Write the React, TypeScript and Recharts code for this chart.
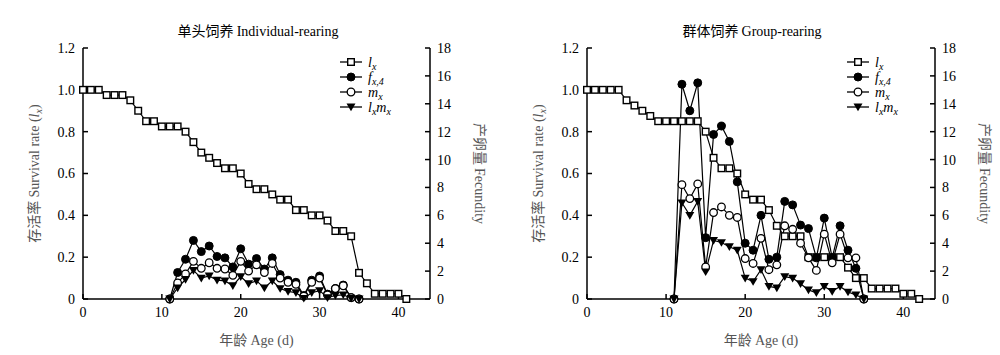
import { LineChart, Line, XAxis, YAxis, Legend } from 'recharts';

// x values (age, days)
const indivDays = [0, 1, 2, 3, 4, 5, 6, 7, 8, 9, 10, 11, 12, 13, 14, 15, 16, 17, 18, 19, 20, 21, 22, 23, 24, 25, 26, 27, 28, 29, 30, 31, 32, 33, 34, 35, 36, 37, 38, 39, 40, 41];
const groupDays = [0, 1, 2, 3, 4, 5, 6, 7, 8, 9, 10, 11, 12, 13, 14, 15, 16, 17, 18, 19, 20, 21, 22, 23, 24, 25, 26, 27, 28, 29, 30, 31, 32, 33, 34, 35, 36, 37, 38, 39, 40, 41, 42];
const fecDays = [11, 12, 13, 14, 15, 16, 17, 18, 19, 20, 21, 22, 23, 24, 25, 26, 27, 28, 29, 30, 31, 32, 33, 34, 35];

// 单头饲养 Individual-rearing
const indivLx = [1, 1, 1, 0.975, 0.975, 0.975, 0.95, 0.9, 0.85, 0.85, 0.825, 0.825, 0.825, 0.8, 0.75, 0.7, 0.675, 0.65, 0.625, 0.625, 0.6, 0.55, 0.525, 0.525, 0.5, 0.475, 0.475, 0.425, 0.425, 0.4, 0.4, 0.375, 0.325, 0.325, 0.3, 0.125, 0.075, 0.025, 0.025, 0.025, 0.025, 0];
const indivFx = [0, 1.9, 2.85, 4.2, 3.4, 3.8, 3.05, 2.95, 2.3, 3.6, 2.5, 2.9, 2.15, 2.95, 1.75, 1.35, 1.2, 0.25, 1.35, 1.65, 0.35, 0.75, 1.0, 0.1, 0];
const indivMx = [0, 1.15, 1.8, 2.7, 2.2, 2.6, 2.2, 2.15, 1.7, 2.7, 2.0, 2.45, 1.9, 2.55, 1.5, 1.2, 1.05, 0.2, 1.2, 1.5, 0.3, 0.75, 0.95, 0.1, 0];
const indivLxMx = [0, 0.8, 1.4, 2.05, 1.5, 1.65, 1.35, 1.3, 0.95, 1.6, 1.1, 1.3, 0.8, 1.3, 0.75, 0.55, 0.45, 0.05, 0.45, 0.6, 0.1, 0.25, 0.3, 0.05, 0];

// 群体饲养 Group-rearing
const groupLx = [1, 1, 1, 1, 1, 0.95, 0.925, 0.9, 0.875, 0.85, 0.85, 0.85, 0.85, 0.85, 0.85, 0.8, 0.675, 0.625, 0.625, 0.6, 0.5, 0.475, 0.475, 0.425, 0.35, 0.3, 0.3, 0.3, 0.2, 0.2, 0.2, 0.2, 0.2, 0.15, 0.1, 0.1, 0.05, 0.05, 0.05, 0.05, 0.025, 0.025, 0];
const groupFx = [0, 15.4, 13.5, 15.5, 4.4, 11.8, 12.4, 11.3, 8.4, 4.0, 3.5, 6.0, 2.85, 3.0, 7.0, 6.75, 5.3, 5.05, 2.95, 5.8, 2.95, 5.25, 3.5, 2.2, 0];
const groupMx = [0, 8.2, 7.2, 8.25, 2.3, 6.2, 6.6, 6.0, 5.85, 2.9, 2.55, 4.35, 2.1, 2.45, 5.25, 5.0, 4.0, 2.95, 2.05, 4.65, 2.6, 4.65, 2.95, 2.95, 0];
const groupLxMx = [0, 6.9, 6.0, 7.0, 1.95, 4.2, 4.05, 3.75, 3.5, 1.5, 1.25, 2.1, 0.9, 0.8, 1.6, 1.5, 1.1, 0.65, 0.45, 0.9, 0.55, 0.9, 0.5, 0.3, 0];

const xTicks = [0, 10, 20, 30, 40];
const lxTicks = [0, 0.2, 0.4, 0.6, 0.8, 1.0, 1.2];
const fecTicks = [0, 2, 4, 6, 8, 10, 12, 14, 16, 18];

const SERIF = '"Liberation Serif", "Times New Roman", serif';
const CJK = '"Noto Sans CJK SC", sans-serif';

const buildRows = (days: number[], lx: number[], fx: number[], mx: number[], lxmx: number[]) =>
  days.map((d, i) => {
    const j = fecDays.indexOf(d);
    return {
      day: d,
      lx: lx[i],
      fx: j >= 0 ? fx[j] : null,
      mx: j >= 0 ? mx[j] : null,
      lxmx: j >= 0 ? lxmx[j] : null,
    };
  });

const indivRows = buildRows(indivDays, indivLx, indivFx, indivMx, indivLxMx);
const groupRows = buildRows(groupDays, groupLx, groupFx, groupMx, groupLxMx);

// marker shapes
const drawMarker = (kind: string, cx: number, cy: number, key?: any) => {
  if (kind === 'square')
    return <rect key={key} x={cx - 3.3} y={cy - 3.3} width={6.6} height={6.6} fill="#fff" stroke="#000" strokeWidth={1.4} />;
  if (kind === 'filled') return <circle key={key} cx={cx} cy={cy} r={4} fill="#000" stroke="#000" />;
  if (kind === 'open') return <circle key={key} cx={cx} cy={cy} r={3.8} fill="#fff" stroke="#000" strokeWidth={1.3} />;
  return <path key={key} d={`M${cx - 4.5},${cy - 3.4}L${cx + 4.5},${cy - 3.4}L${cx},${cy + 4.3}Z`} fill="#000" />;
};

const dotOf = (kind: string) => (p: any) => {
  if (p.cx == null || p.cy == null || p.value == null) return <g key={p.index} />;
  return drawMarker(kind, p.cx, p.cy, p.index);
};

const legendRows = [
  { kind: 'square', label: <><tspan>l</tspan><tspan dy={3} fontSize={10}>x</tspan></> },
  { kind: 'filled', label: <><tspan>f</tspan><tspan dy={3} fontSize={10}>x,4</tspan></> },
  { kind: 'open', label: <><tspan>m</tspan><tspan dy={3} fontSize={10}>x</tspan></> },
  {
    kind: 'tri',
    label: (
      <>
        <tspan>l</tspan>
        <tspan dy={3} fontSize={10}>x</tspan>
        <tspan dy={-3}>m</tspan>
        <tspan dy={3} fontSize={10}>x</tspan>
      </>
    ),
  },
];

const LegendBox = () => (
  <svg width={95} height={62}>
    {legendRows.map((r, i) => {
      const y = 7 + i * 15;
      return (
        <g key={i}>
          <line x1={0} x2={22} y1={y} y2={y} stroke="#000" strokeWidth={1.3} />
          {drawMarker(r.kind, 11, y)}
          <text x={28} y={y + 5} fontFamily={SERIF} fontStyle="italic" fontSize={14} fill="#000">
            {r.label}
          </text>
        </g>
      );
    })}
  </svg>
);

const LxTitle = (props: any) => {
  const { x, y, height } = props.viewBox;
  const cx = x - 4;
  const cy = y + height / 2;
  return (
    <text transform={`translate(${cx},${cy}) rotate(-90)`} textAnchor="middle" fontSize={14} fill="#555">
      <tspan fontFamily={CJK}>存活率 </tspan>
      <tspan fontFamily={SERIF}>Survival rate (</tspan>
      <tspan fontFamily={SERIF} fontStyle="italic">l</tspan>
      <tspan fontFamily={SERIF} fontStyle="italic" dy={3} fontSize={10}>x</tspan>
      <tspan fontFamily={SERIF} dy={-3}>)</tspan>
    </text>
  );
};

const FecTitle = (props: any) => {
  const { x, y, height } = props.viewBox;
  const cx = x + 45;
  const cy = y + height / 2;
  return (
    <text transform={`translate(${cx},${cy}) rotate(90)`} textAnchor="middle" fontSize={14} fill="#555">
      <tspan fontFamily={CJK}>产卵量 </tspan>
      <tspan fontFamily={SERIF}>Fecundity</tspan>
    </text>
  );
};

const AgeTitle = (props: any) => {
  const { x, y, width } = props.viewBox;
  return (
    <text x={x + width / 2} y={y + 46} textAnchor="middle" fontSize={14} fill="#555">
      <tspan fontFamily={CJK}>年龄 </tspan>
      <tspan fontFamily={SERIF}>Age (d)</tspan>
    </text>
  );
};

const tickStyle = { fill: '#000', fontSize: 14, fontFamily: SERIF };
const axisLine = { stroke: '#000', strokeWidth: 1.5 };
const tickLine = { stroke: '#000', strokeWidth: 1.5 };

const Panel = ({ rows, margin, legendLeft }: { rows: any[]; margin: any; legendLeft: number }) => (
  <LineChart width={500} height={355} data={rows} margin={margin}>
    <XAxis
      dataKey="day"
      type="number"
      domain={[0, 44]}
      ticks={xTicks}
      tickSize={-5}
      tickMargin={13}
      tick={tickStyle}
      axisLine={axisLine}
      tickLine={tickLine}
      height={30}
      label={{ content: AgeTitle }}
    />
    <YAxis
      yAxisId="lx"
      domain={[0, 1.2]}
      ticks={lxTicks}
      tickFormatter={(v: number) => (v === 0 ? '0' : v.toFixed(1))}
      tickSize={-5}
      tickMargin={13}
      tick={tickStyle}
      axisLine={axisLine}
      tickLine={tickLine}
      width={40}
      label={{ content: LxTitle }}
    />
    <YAxis
      yAxisId="fec"
      orientation="right"
      domain={[0, 18]}
      ticks={fecTicks}
      tickSize={-5}
      tickMargin={12}
      tick={tickStyle}
      axisLine={axisLine}
      tickLine={tickLine}
      width={40}
      label={{ content: FecTitle }}
    />
    <Legend
      layout="vertical"
      align="center"
      verticalAlign="middle"
      content={() => <LegendBox />}
      wrapperStyle={{ left: legendLeft, top: 55, width: 95, height: 62 }}
    />
    <Line yAxisId="lx" dataKey="lx" type="linear" stroke="#000" strokeWidth={1.2} dot={dotOf('square')} isAnimationActive={false} />
    <Line yAxisId="fec" dataKey="fx" type="linear" stroke="#000" strokeWidth={1.2} dot={dotOf('filled')} isAnimationActive={false} />
    <Line yAxisId="fec" dataKey="mx" type="linear" stroke="#000" strokeWidth={1.2} dot={dotOf('open')} isAnimationActive={false} />
    <Line yAxisId="fec" dataKey="lxmx" type="linear" stroke="#000" strokeWidth={1.2} dot={dotOf('tri')} isAnimationActive={false} />
  </LineChart>
);

const titleStyle = (left: number): any => ({
  position: 'absolute',
  top: 21,
  left,
  width: 400,
  textAlign: 'center',
  fontSize: 14,
  color: '#000',
  lineHeight: '18px',
});

export default function App() {
  return (
    <div style={{ position: 'absolute', left: 0, top: 0, width: 1000, height: 355, background: '#fff', overflow: 'hidden' }}>
      <div style={{ position: 'absolute', left: 0, top: 0 }}>
        <Panel rows={indivRows} margin={{ top: 48, right: 30, bottom: 26, left: 43 }} legendLeft={340} />
      </div>
      <div style={{ position: 'absolute', left: 500, top: 0 }}>
        <Panel rows={groupRows} margin={{ top: 48, right: 25, bottom: 26, left: 47 }} legendLeft={347} />
      </div>
      <div style={titleStyle(58)}>
        <span style={{ fontFamily: CJK }}>单头饲养 </span>
        <span style={{ fontFamily: SERIF }}>Individual-rearing</span>
      </div>
      <div style={titleStyle(552)}>
        <span style={{ fontFamily: CJK }}>群体饲养 </span>
        <span style={{ fontFamily: SERIF }}>Group-rearing</span>
      </div>
    </div>
  );
}
